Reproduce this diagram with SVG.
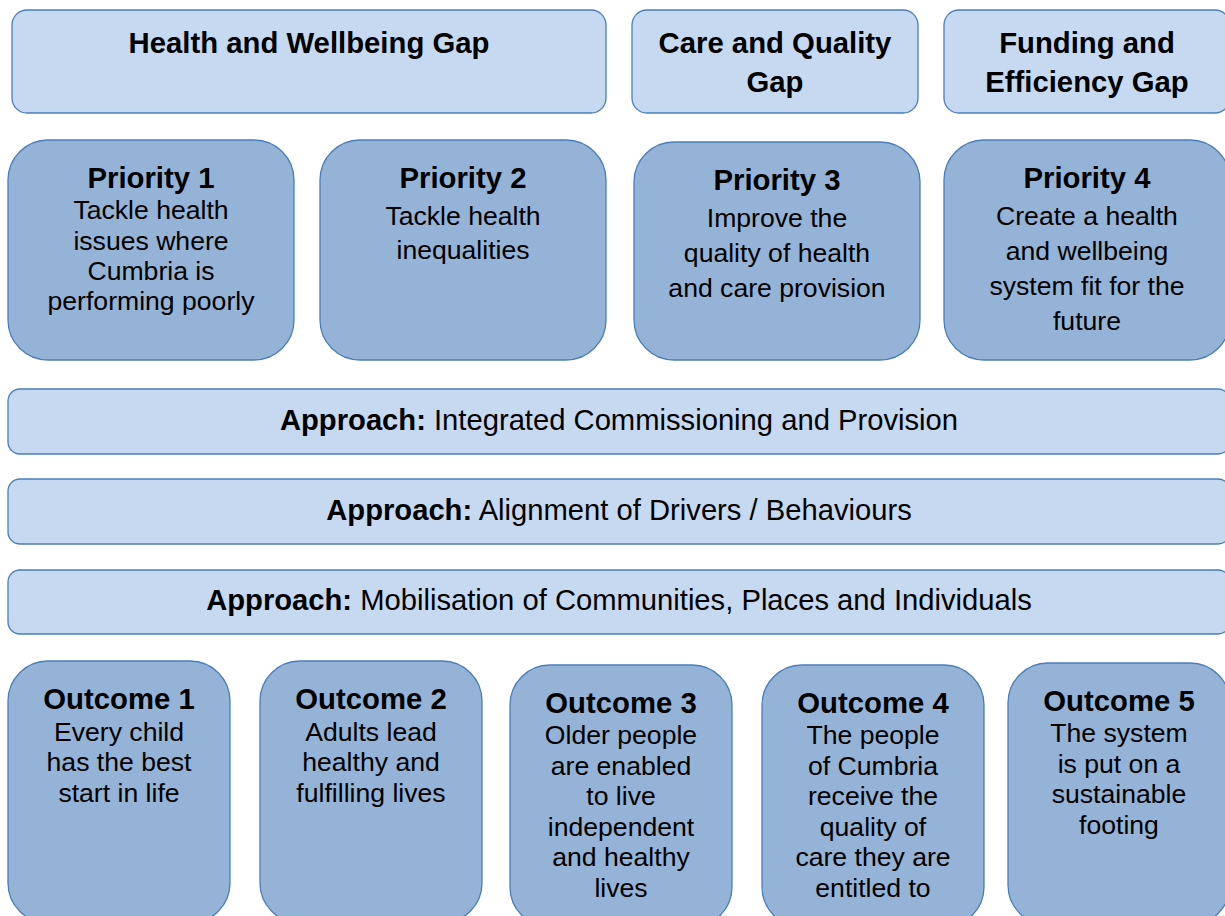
<svg xmlns="http://www.w3.org/2000/svg" width="1225" height="916" viewBox="0 0 1225 916">
<style>
.light{fill:#C6D9F1;stroke:#4A7EBB;stroke-width:1.3}
.dark{fill:#95B3D7;stroke:#4A7EBB;stroke-width:1.3}
text{font-family:"Liberation Sans",Arial,sans-serif;fill:#000;text-anchor:middle}
.t{font-weight:bold;font-size:29.3px}
.b{font-size:26.6px}
.a{font-size:29.2px}
</style>
<rect width="1225" height="916" fill="#fff"/>
<g id="gap-health">
<rect class="light" x="12" y="10" width="594" height="103" rx="15"/>
<text class="t" x="309" y="53">Health and Wellbeing Gap</text>
</g>
<g id="gap-care">
<rect class="light" x="632" y="10" width="286" height="103" rx="15"/>
<text class="t" x="775" y="53">Care and Quality</text>
<text class="t" x="775" y="92">Gap</text>
</g>
<g id="gap-funding">
<rect class="light" x="944" y="10" width="286" height="103" rx="15"/>
<text class="t" x="1087" y="53">Funding and</text>
<text class="t" x="1087" y="92">Efficiency Gap</text>
</g>
<g id="priority1">
<rect class="dark" x="8" y="140" width="286" height="220" rx="40"/>
<text class="t" x="151" y="188">Priority 1</text>
<text class="b" x="151" y="219">Tackle health</text>
<text class="b" x="151" y="250">issues where</text>
<text class="b" x="151" y="280">Cumbria is</text>
<text class="b" x="151" y="310">performing poorly</text>
</g>
<g id="priority2">
<rect class="dark" x="320" y="140" width="286" height="220" rx="40"/>
<text class="t" x="463" y="188">Priority 2</text>
<text class="b" x="463" y="225">Tackle health</text>
<text class="b" x="463" y="259">inequalities</text>
</g>
<g id="priority3">
<rect class="dark" x="634" y="142" width="286" height="218" rx="40"/>
<text class="t" x="777" y="190">Priority 3</text>
<text class="b" x="777" y="227">Improve the</text>
<text class="b" x="777" y="262">quality of health</text>
<text class="b" x="777" y="297">and care provision</text>
</g>
<g id="priority4">
<rect class="dark" x="944" y="140" width="286" height="220" rx="40"/>
<text class="t" x="1087" y="188">Priority 4</text>
<text class="b" x="1087" y="225">Create a health</text>
<text class="b" x="1087" y="260">and wellbeing</text>
<text class="b" x="1087" y="295">system fit for the</text>
<text class="b" x="1087" y="330">future</text>
</g>
<g id="approach1">
<rect class="light" x="8" y="389" width="1222" height="65" rx="12"/>
<text class="a" x="619" y="430"><tspan font-weight="bold">Approach:</tspan> Integrated Commissioning and Provision</text>
</g>
<g id="approach2">
<rect class="light" x="8" y="479" width="1222" height="65" rx="12"/>
<text class="a" x="619" y="520"><tspan font-weight="bold">Approach:</tspan> Alignment of Drivers / Behaviours</text>
</g>
<g id="approach3">
<rect class="light" x="8" y="570" width="1222" height="64" rx="12"/>
<text class="a" x="619" y="610"><tspan font-weight="bold">Approach:</tspan> Mobilisation of Communities, Places and Individuals</text>
</g>
<g id="outcome1">
<rect class="dark" x="8" y="661" width="222" height="262" rx="40"/>
<text class="t" x="119" y="709">Outcome 1</text>
<text class="b" x="119" y="741">Every child</text>
<text class="b" x="119" y="771">has the best</text>
<text class="b" x="119" y="802">start in life</text>
</g>
<g id="outcome2">
<rect class="dark" x="260" y="661" width="222" height="262" rx="40"/>
<text class="t" x="371" y="709">Outcome 2</text>
<text class="b" x="371" y="741">Adults lead</text>
<text class="b" x="371" y="771">healthy and</text>
<text class="b" x="371" y="802">fulfilling lives</text>
</g>
<g id="outcome3">
<rect class="dark" x="510" y="665" width="222" height="262" rx="40"/>
<text class="t" x="621" y="713">Outcome 3</text>
<text class="b" x="621" y="744">Older people</text>
<text class="b" x="621" y="774.5">are enabled</text>
<text class="b" x="621" y="805">to live</text>
<text class="b" x="621" y="835.5">independent</text>
<text class="b" x="621" y="866">and healthy</text>
<text class="b" x="621" y="896.5">lives</text>
</g>
<g id="outcome4">
<rect class="dark" x="762" y="665" width="222" height="262" rx="40"/>
<text class="t" x="873" y="713">Outcome 4</text>
<text class="b" x="873" y="744">The people</text>
<text class="b" x="873" y="774.5">of Cumbria</text>
<text class="b" x="873" y="805">receive the</text>
<text class="b" x="873" y="835.5">quality of</text>
<text class="b" x="873" y="866">care they are</text>
<text class="b" x="873" y="896.5">entitled to</text>
</g>
<g id="outcome5">
<rect class="dark" x="1008" y="663" width="222" height="262" rx="40"/>
<text class="t" x="1119" y="711">Outcome 5</text>
<text class="b" x="1119" y="742">The system</text>
<text class="b" x="1119" y="772.5">is put on a</text>
<text class="b" x="1119" y="803">sustainable</text>
<text class="b" x="1119" y="833.5">footing</text>
</g>
<g id="connectors"></g>
</svg>
